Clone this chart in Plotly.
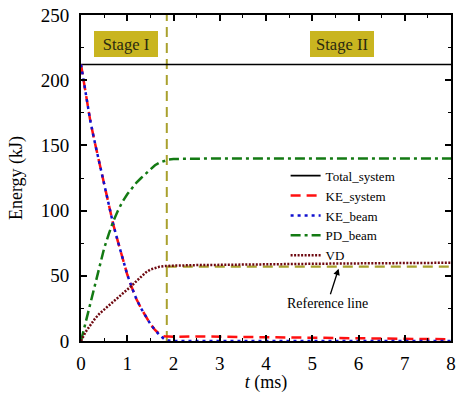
import plotly.graph_objects as go

# ---- data ----
t_ms = [0, 0.1, 0.2, 0.3, 0.4, 0.5, 0.6, 0.7, 0.8, 0.9, 1.0, 1.1, 1.2, 1.3, 1.4, 1.5,
        1.6, 1.7, 1.8, 1.9, 2.0, 2.5, 3.0, 3.5, 4.0, 4.5, 5.0, 5.5, 6.0, 6.5, 7.0, 7.5, 8.0]
total_system = [212] * len(t_ms)
ke_system = [212, 189, 169, 152, 136, 119, 103, 89, 76, 63, 51, 41, 32, 25, 18.5, 13,
             8.5, 5.2, 3.6, 3.2, 3.3, 3.5, 3.4, 3.2, 3.0, 2.7, 2.5, 2.3, 2.1, 1.9, 1.7, 1.5, 1.3]
ke_beam = [212, 189, 169, 152, 136, 119, 103, 89, 76, 63, 51, 41, 32, 25, 18.5, 13,
           8.5, 4.5, 1.5, 0.3, 0, 0, 0, 0, 0, 0, 0, 0, 0, 0, 0, 0, 0]
pd_beam = [0, 14, 29, 44, 58, 71, 82, 92, 100, 107, 112.5, 117.5, 121.5, 125, 128.5, 132,
           134.8, 136.8, 138.3, 139.2, 139.6, 140, 140, 140, 140, 140, 140, 140, 140, 140, 140, 140, 140]
vd = [0, 7, 12, 17, 21, 24, 27, 30, 33, 36, 39, 42.5, 46, 49.5, 52.5, 54.8,
      56.2, 57, 57.4, 57.6, 57.8, 58.2, 58.5, 58.7, 58.8, 59.0, 59.2, 59.4, 59.5, 59.6, 59.7, 59.8, 60]

stage_boundary_t = 1.855
reference_level = 57
x_end = 8
y_top = 250

series_names = ["Total_system", "KE_system", "KE_beam", "PD_beam", "VD"]
x_ticks = [0, 1, 2, 3, 4, 5, 6, 7, 8]
y_ticks = [0, 50, 100, 150, 200, 250]

FONT = "Liberation Serif, Times New Roman, serif"
OLIVE = "#A9A12E"

fig = go.Figure()

# stage boundary and reference line
fig.add_trace(go.Scatter(x=[stage_boundary_t, stage_boundary_t], y=[0, y_top], mode="lines",
                         line=dict(color=OLIVE, width=2, dash="10px,6px"), showlegend=False,
                         hoverinfo="skip"))
fig.add_trace(go.Scatter(x=[stage_boundary_t, x_end], y=[reference_level, reference_level], mode="lines",
                         line=dict(color=OLIVE, width=2.2, dash="10px,6px"), showlegend=False,
                         hoverinfo="skip"))

fig.add_trace(go.Scatter(x=t_ms, y=total_system, mode="lines", name=series_names[0],
                         line=dict(color="black", width=1.6)))
fig.add_trace(go.Scatter(x=t_ms, y=ke_system, mode="lines", name=series_names[1],
                         line=dict(color="#FF1010", width=2.5, dash="10px,6px")))
fig.add_trace(go.Scatter(x=t_ms, y=ke_beam, mode="lines", name=series_names[2],
                         line=dict(color="#1010D0", width=2.5, dash="3px,4px")))
fig.add_trace(go.Scatter(x=t_ms, y=pd_beam, mode="lines", name=series_names[3],
                         line=dict(color="#137A13", width=2.5, dash="10px,4px,3px,4px")))
fig.add_trace(go.Scatter(x=t_ms, y=vd, mode="lines", name=series_names[4],
                         line=dict(color="#6E0810", width=2.5, dash="2px,1.5px")))

axis_common = dict(
    showline=True, linecolor="black", linewidth=2, mirror="allticks",
    ticks="inside", ticklen=6, tickwidth=1.5, tickcolor="black",
    showgrid=False, zeroline=False,
    tickfont=dict(family=FONT, size=19, color="black"),
)

fig.update_xaxes(range=[0, x_end], tickvals=x_ticks, ticktext=[str(v) for v in x_ticks],
                 minor=dict(ticks="inside", ticklen=3, tickwidth=1.2, tickcolor="black", dtick=0.5, tick0=0),
                 title=dict(text="<i>t</i> (ms)", font=dict(family=FONT, size=18, color="black"), standoff=6),
                 ticklabelstandoff=4, ticklabeloverflow="allow", **axis_common)
fig.update_yaxes(range=[0, y_top], tickvals=y_ticks, ticktext=[str(v) for v in y_ticks],
                 minor=dict(ticks="inside", ticklen=3, tickwidth=1.2, tickcolor="black", dtick=25, tick0=0),
                 title=dict(text="Energy (kJ)", font=dict(family=FONT, size=18, color="black"), standoff=13),
                 ticklabelstandoff=6, **axis_common)

# stage labels
for label, xc in [("Stage I", 0.98), ("Stage II", 5.65)]:
    fig.add_annotation(x=xc, y=228, xref="x", yref="y", text=label, showarrow=False,
                       font=dict(family=FONT, size=16.5, color="#2A2A10"),
                       bgcolor="#C9B520", width=62, height=24, borderpad=1, borderwidth=0)

fig.add_annotation(x=5.57, y=55.5, xref="x", yref="y", ax=5.33, ay=29, axref="x", ayref="y",
                   text="Reference line", showarrow=True, arrowhead=2, arrowsize=1, arrowwidth=1.3,
                   arrowcolor="black", font=dict(family=FONT, size=14, color="black"))

fig.update_layout(
    width=457, height=393,
    margin=dict(l=81, r=1, t=15, b=50),
    plot_bgcolor="white", paper_bgcolor="white",
    legend=dict(x=0.553, y=0.553, xanchor="left", yanchor="top", bgcolor="rgba(0,0,0,0)",
                font=dict(family=FONT, size=13, color="black"), itemwidth=30,
                tracegroupgap=0),
)

fig.write_html("out.html")
